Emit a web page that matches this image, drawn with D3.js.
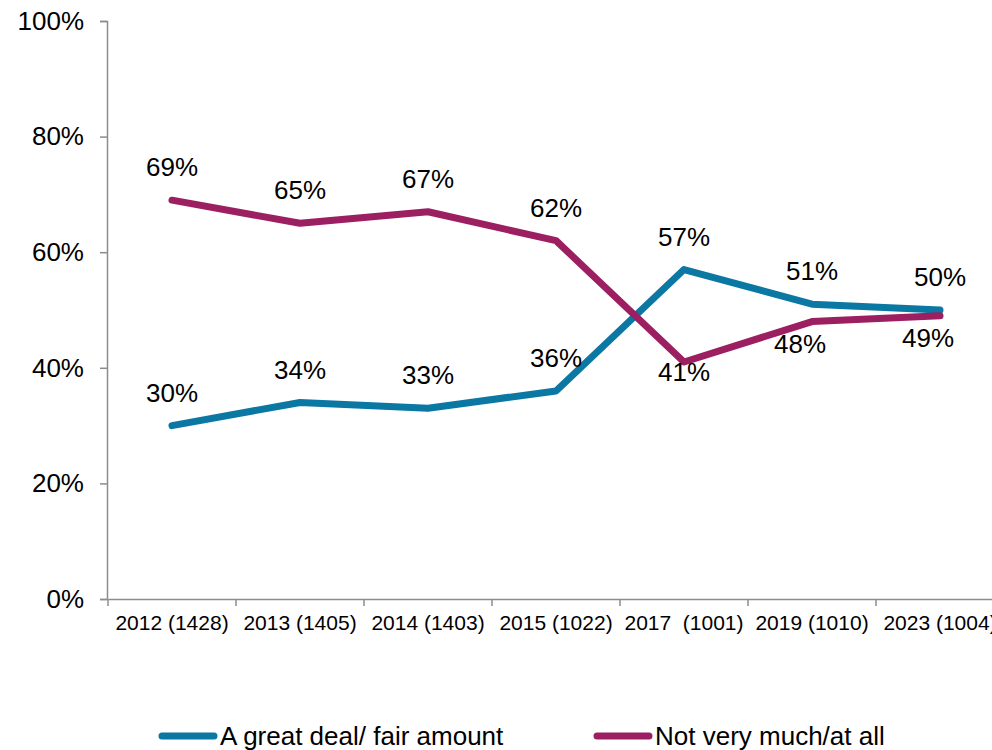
<!DOCTYPE html>
<html>
<head>
<meta charset="utf-8">
<script src="https://cdn.jsdelivr.net/npm/d3@7"></script>
<style>
  html, body { margin: 0; padding: 0; background: #fff; }
  svg { display: block; font-family: Arial, "Liberation Sans", sans-serif; }
</style>
</head>
<body>
<svg id="chart" width="992" height="750"></svg>
<script>
// Survey waves (year and sample size)
const categories = ["2012 (1428)", "2013 (1405)", "2014 (1403)", "2015 (1022)", "2017  (1001)", "2019 (1010)", "2023 (1004)"];
// Share of respondents, percent
const greatDeal = [30, 34, 33, 36, 57, 51, 50];
const notMuch = [69, 65, 67, 62, 41, 48, 49];
const seriesNames = ["A great deal/ fair amount", "Not very much/at all"];
const yTicks = [0, 20, 40, 60, 80, 100];

const colors = ["#0B77A3", "#9C1F62"];

const svg = d3.select("#chart");

const x = d3.scaleBand().domain(categories).range([108, 1004]);
const y = d3.scaleLinear().domain([0, 100]).range([599, 21]);
const cx = c => x(c) + x.bandwidth() / 2;

// Y axis
const yAxis = svg.append("g")
  .attr("transform", "translate(107,0)")
  .call(d3.axisLeft(y).tickValues(yTicks).tickFormat(d => d + "%").tickSize(7).tickPadding(16));
yAxis.select(".domain").attr("stroke", "#8c8c8c").attr("stroke-width", 1.5);
yAxis.selectAll(".tick line").attr("stroke", "#8c8c8c").attr("stroke-width", 1.5);
yAxis.selectAll(".tick text").attr("font-size", 26).attr("fill", "#000")
  .attr("font-family", "Arial, 'Liberation Sans', sans-serif");

// X axis
const xAxis = svg.append("g")
  .attr("transform", "translate(0,599)")
  .call(d3.axisBottom(x).tickSize(0).tickPadding(16).tickSizeOuter(0));
xAxis.select(".domain").attr("stroke", "#8c8c8c").attr("stroke-width", 1.5);
xAxis.selectAll(".tick text").attr("font-size", 21).attr("fill", "#000")
  .attr("font-family", "Arial, 'Liberation Sans', sans-serif")
  .style("white-space", "pre").attr("xml:space", "preserve");
// Tick marks at band boundaries
const edges = categories.map(c => x(c)).concat([x(categories[categories.length - 1]) + x.bandwidth()]);
xAxis.selectAll(".edge").data(edges).enter().append("line")
  .attr("x1", d => d).attr("x2", d => d).attr("y1", 0).attr("y2", 7)
  .attr("stroke", "#8c8c8c").attr("stroke-width", 1.5);

// Lines
const line = d3.line().x((d, i) => cx(categories[i])).y(d => y(d));
[greatDeal, notMuch].forEach((vals, s) => {
  svg.append("path").datum(vals)
    .attr("d", line)
    .attr("fill", "none")
    .attr("stroke", colors[s])
    .attr("stroke-width", 7)
    .attr("stroke-linejoin", "round")
    .attr("stroke-linecap", "round");
});

// Data labels: above the higher series' point, below the lower one's once the lines cross
const labelGroup = svg.append("g").attr("font-size", 26).attr("fill", "#000").attr("text-anchor", "middle");
greatDeal.forEach((v, i) => {
  labelGroup.append("text")
    .attr("x", cx(categories[i]))
    .attr("y", y(v) - 33)
    .attr("dy", "0.35em")
    .text(v + "%");
});
notMuch.forEach((v, i) => {
  const below = v < greatDeal[i];
  labelGroup.append("text")
    .attr("x", cx(categories[i]) - (below && i > 4 ? 12 : 0))
    .attr("y", below ? y(v) + (i === 4 ? 10 : 22) : y(v) - 33)
    .attr("dy", "0.35em")
    .text(v + "%");
});

// Legend
const legendX = [159, 594];
const legend = svg.append("g");
seriesNames.forEach((name, s) => {
  const g = legend.append("g").attr("transform", `translate(${legendX[s]},736)`);
  g.append("line").attr("x1", 3).attr("x2", 55).attr("y1", 0).attr("y2", 0)
    .attr("stroke", colors[s]).attr("stroke-width", 7).attr("stroke-linecap", "round");
  g.append("text").attr("x", 61).attr("y", 0).attr("dy", "0.35em")
    .attr("font-size", 26).attr("fill", "#000")
    .text(name);
});
</script>
</body>
</html>
